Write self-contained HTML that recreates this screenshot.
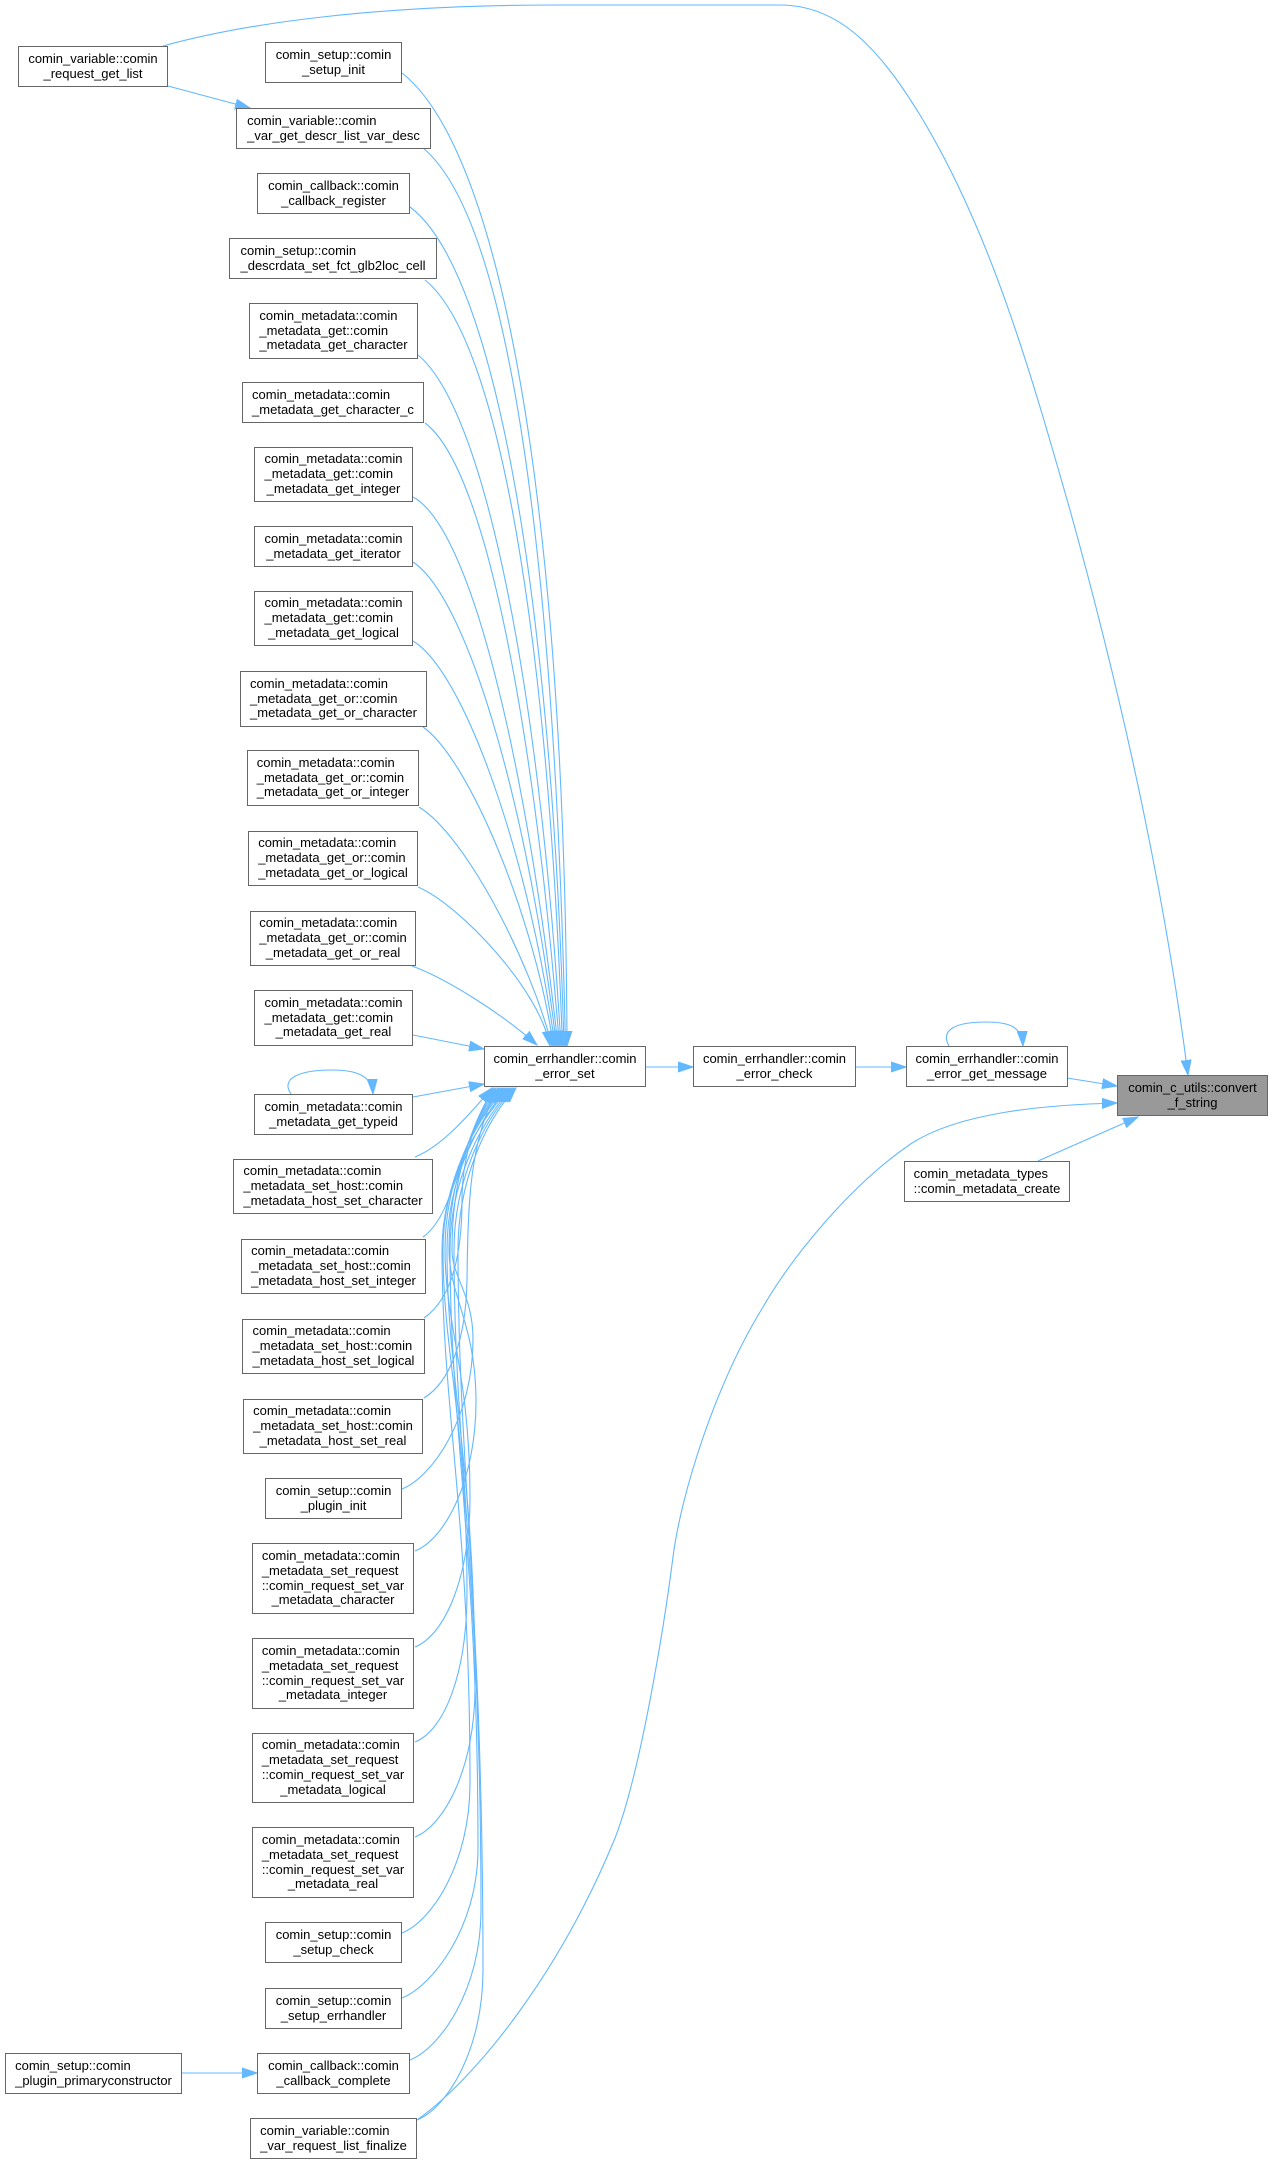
<!DOCTYPE html>
<html><head><meta charset="utf-8">
<style>
html,body{margin:0;padding:0;background:#fff;}
body{width:1274px;height:2164px;position:relative;overflow:hidden;font-family:"Liberation Sans",Arial,Helvetica,sans-serif;font-size:13px;color:#000;}
svg{position:absolute;left:0;top:0;}
.n{position:absolute;box-sizing:border-box;border:1px solid #666;background:#fff;display:flex;align-items:center;justify-content:center;line-height:14.8px;}
.g{background:#999;}
.l{display:inline-block;}
.l span{display:block;text-align:left;white-space:nowrap;}
.l span:last-child{text-align:center;}
</style></head><body>
<svg width="1274" height="2164" viewBox="0 0 1274 2164" xmlns="http://www.w3.org/2000/svg">
<defs>
<marker id="a" markerUnits="userSpaceOnUse" markerWidth="16" markerHeight="12" refX="15" refY="5.5" orient="auto">
<path d="M0,0.5 L15,5.5 L0,10.5 z" fill="#63b8ff" stroke="#63b8ff" stroke-width="1"/>
</marker>
</defs>
<g fill="none" stroke="#63b8ff" stroke-width="1.1" marker-end="url(#a)">
<!-- big arc -->
<path d="M163,46 C250,22 380,5 560,5 L780,5 C840,5 880,50 920,115 C990,230 1030,370 1070,510 C1120,690 1163,880 1188,1075"/>
<path d="M168,86 L250,108"/>
<!-- upper edges to error_set -->
<path d="M402,73 C500,150 565,500 567,1046"/>
<path d="M423,148 C510,220 555,560 565.5,1046"/>
<path d="M410,207 C495,270 552,600 564,1046"/>
<path d="M425,280 C500,340 548,640 562.5,1046"/>
<path d="M418,355 C485,410 540,690 561,1046"/>
<path d="M425,423 C488,470 535,740 559.5,1046"/>
<path d="M413,497 C475,530 530,790 558,1046"/>
<path d="M413,562 C470,600 530,820 556.5,1046"/>
<path d="M413,641 C465,672 530,860 555,1046"/>
<path d="M423,727 C470,760 535,920 553.5,1046"/>
<path d="M419,807 C465,835 530,960 552,1046"/>
<path d="M418,887 C460,905 540,990 550,1046"/>
<path d="M412,966 C445,978 500,1012 537,1045"/>
<path d="M413,1035 L484,1049"/>
<path d="M413,1097 L484,1084"/>
<path d="M291,1094 C280,1078 300,1070 332,1070 C355,1070 372,1075 373,1094"/>
<!-- bundle to error_set bottom -->
<path d="M415,1157 C440,1147 465,1120 492,1088"/>
<path d="M423,1237 C455,1215 460,1140 494,1088"/>
<path d="M424,1318 C450,1300 462,1260 462,1200 C462,1150 480,1110 496,1088"/>
<path d="M424,1398 C450,1382 466,1340 467,1280 C468,1200 470,1140 498,1088"/>
<path d="M402,1489 C432,1477 473,1419 473,1339 C473,1295 452,1277 452,1250 C452,1180 470,1120 500,1088"/>
<path d="M415,1551 C445,1539 476,1481 476,1401 C476,1325 449,1295 449,1250 C449,1180 472,1120 502,1088"/>
<path d="M415,1647 C445,1635 470,1577 470,1497 C470,1374 445,1324 445,1250 C445,1180 474,1120 504,1088"/>
<path d="M415,1742 C445,1730 467,1672 467,1592 C467,1421 443,1353 443,1250 C443,1180 476,1120 506,1088"/>
<path d="M415,1837 C445,1825 475,1767 475,1687 C475,1468 447,1381 447,1250 C447,1180 478,1120 508,1088"/>
<path d="M402,1933 C432,1921 470,1863 470,1783 C470,1516 442,1410 442,1250 C442,1180 480,1120 510,1088"/>
<path d="M402,1998 C432,1986 478,1928 478,1848 C478,1549 450,1429 450,1250 C450,1180 482,1120 512,1088"/>
<path d="M410,2060 C440,2048 481,1990 481,1910 C481,1580 454,1448 454,1250 C454,1180 484,1120 514,1088"/>
<path d="M417,2120 C447,2108 483,2050 483,1970 C483,1610 458,1466 458,1250 C458,1180 486,1120 516,1088"/>
<!-- S curve to convert -->
<path d="M417,2120 C480,2075 560,1970 613,1843 C640,1779 665,1620 673,1557 C681,1494 715,1385 763,1307 C792,1257 850,1185 912,1143 C960,1113 1040,1105 1117,1103"/>
<path d="M182,2073 L257,2073"/>
<path d="M646,1067 L693,1067"/>
<path d="M856,1067 L906,1067"/>
<path d="M1067,1078 L1117,1086"/>
<path d="M1038,1161 L1138,1117"/>
<path d="M949,1046 C940,1030 955,1022 986,1022 C1010,1022 1022,1027 1023,1046"/>
</g>
</svg>

<div class="n" style="left:18px;top:46px;width:150px;height:41px"><div class="l"><span>comin_variable::comin</span><span>_request_get_list</span></div></div>
<div class="n" style="left:265px;top:42px;width:137px;height:41px"><div class="l"><span>comin_setup::comin</span><span>_setup_init</span></div></div>
<div class="n" style="left:236px;top:108px;width:195px;height:41px"><div class="l"><span>comin_variable::comin</span><span>_var_get_descr_list_var_desc</span></div></div>
<div class="n" style="left:257px;top:173px;width:153px;height:41px"><div class="l"><span>comin_callback::comin</span><span>_callback_register</span></div></div>
<div class="n" style="left:229px;top:238px;width:208px;height:41px"><div class="l"><span>comin_setup::comin</span><span>_descrdata_set_fct_glb2loc_cell</span></div></div>
<div class="n" style="left:249px;top:303px;width:169px;height:56px"><div class="l"><span>comin_metadata::comin</span><span>_metadata_get::comin</span><span>_metadata_get_character</span></div></div>
<div class="n" style="left:242px;top:382px;width:182px;height:41px"><div class="l"><span>comin_metadata::comin</span><span>_metadata_get_character_c</span></div></div>
<div class="n" style="left:254px;top:447px;width:159px;height:55px"><div class="l"><span>comin_metadata::comin</span><span>_metadata_get::comin</span><span>_metadata_get_integer</span></div></div>
<div class="n" style="left:254px;top:526px;width:159px;height:41px"><div class="l"><span>comin_metadata::comin</span><span>_metadata_get_iterator</span></div></div>
<div class="n" style="left:254px;top:591px;width:159px;height:55px"><div class="l"><span>comin_metadata::comin</span><span>_metadata_get::comin</span><span>_metadata_get_logical</span></div></div>
<div class="n" style="left:240px;top:671px;width:187px;height:56px"><div class="l"><span>comin_metadata::comin</span><span>_metadata_get_or::comin</span><span>_metadata_get_or_character</span></div></div>
<div class="n" style="left:247px;top:750px;width:172px;height:56px"><div class="l"><span>comin_metadata::comin</span><span>_metadata_get_or::comin</span><span>_metadata_get_or_integer</span></div></div>
<div class="n" style="left:248px;top:831px;width:170px;height:55px"><div class="l"><span>comin_metadata::comin</span><span>_metadata_get_or::comin</span><span>_metadata_get_or_logical</span></div></div>
<div class="n" style="left:250px;top:911px;width:166px;height:55px"><div class="l"><span>comin_metadata::comin</span><span>_metadata_get_or::comin</span><span>_metadata_get_or_real</span></div></div>
<div class="n" style="left:254px;top:990px;width:159px;height:56px"><div class="l"><span>comin_metadata::comin</span><span>_metadata_get::comin</span><span>_metadata_get_real</span></div></div>
<div class="n" style="left:254px;top:1094px;width:159px;height:41px"><div class="l"><span>comin_metadata::comin</span><span>_metadata_get_typeid</span></div></div>
<div class="n" style="left:233px;top:1159px;width:200px;height:55px"><div class="l"><span>comin_metadata::comin</span><span>_metadata_set_host::comin</span><span>_metadata_host_set_character</span></div></div>
<div class="n" style="left:241px;top:1239px;width:185px;height:55px"><div class="l"><span>comin_metadata::comin</span><span>_metadata_set_host::comin</span><span>_metadata_host_set_integer</span></div></div>
<div class="n" style="left:242px;top:1319px;width:183px;height:55px"><div class="l"><span>comin_metadata::comin</span><span>_metadata_set_host::comin</span><span>_metadata_host_set_logical</span></div></div>
<div class="n" style="left:243px;top:1399px;width:180px;height:55px"><div class="l"><span>comin_metadata::comin</span><span>_metadata_set_host::comin</span><span>_metadata_host_set_real</span></div></div>
<div class="n" style="left:265px;top:1478px;width:137px;height:41px"><div class="l"><span>comin_setup::comin</span><span>_plugin_init</span></div></div>
<div class="n" style="left:252px;top:1543px;width:162px;height:71px"><div class="l"><span>comin_metadata::comin</span><span>_metadata_set_request</span><span>::comin_request_set_var</span><span>_metadata_character</span></div></div>
<div class="n" style="left:252px;top:1638px;width:162px;height:71px"><div class="l"><span>comin_metadata::comin</span><span>_metadata_set_request</span><span>::comin_request_set_var</span><span>_metadata_integer</span></div></div>
<div class="n" style="left:252px;top:1733px;width:162px;height:70px"><div class="l"><span>comin_metadata::comin</span><span>_metadata_set_request</span><span>::comin_request_set_var</span><span>_metadata_logical</span></div></div>
<div class="n" style="left:252px;top:1827px;width:162px;height:71px"><div class="l"><span>comin_metadata::comin</span><span>_metadata_set_request</span><span>::comin_request_set_var</span><span>_metadata_real</span></div></div>
<div class="n" style="left:265px;top:1922px;width:137px;height:41px"><div class="l"><span>comin_setup::comin</span><span>_setup_check</span></div></div>
<div class="n" style="left:265px;top:1988px;width:137px;height:41px"><div class="l"><span>comin_setup::comin</span><span>_setup_errhandler</span></div></div>
<div class="n" style="left:257px;top:2053px;width:153px;height:41px"><div class="l"><span>comin_callback::comin</span><span>_callback_complete</span></div></div>
<div class="n" style="left:250px;top:2118px;width:167px;height:41px"><div class="l"><span>comin_variable::comin</span><span>_var_request_list_finalize</span></div></div>
<div class="n" style="left:5px;top:2053px;width:177px;height:41px"><div class="l"><span>comin_setup::comin</span><span>_plugin_primaryconstructor</span></div></div>
<div class="n" style="left:484px;top:1046px;width:162px;height:41px"><div class="l"><span>comin_errhandler::comin</span><span>_error_set</span></div></div>
<div class="n" style="left:693px;top:1046px;width:163px;height:41px"><div class="l"><span>comin_errhandler::comin</span><span>_error_check</span></div></div>
<div class="n" style="left:906px;top:1046px;width:162px;height:41px"><div class="l"><span>comin_errhandler::comin</span><span>_error_get_message</span></div></div>
<div class="n g" style="left:1117px;top:1075px;width:151px;height:41px"><div class="l"><span>comin_c_utils::convert</span><span>_f_string</span></div></div>
<div class="n" style="left:904px;top:1161px;width:166px;height:41px"><div class="l"><span>comin_metadata_types</span><span>::comin_metadata_create</span></div></div>
</body></html>
